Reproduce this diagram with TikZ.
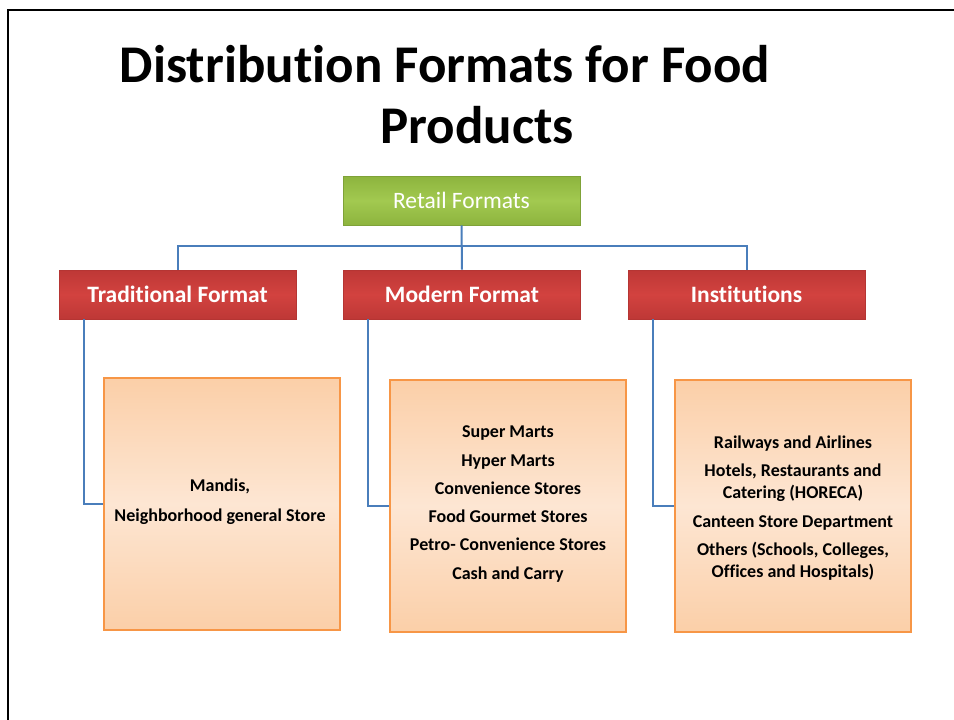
\documentclass[tikz,border=0pt]{standalone}
\usepackage{fontspec}
\setmainfont[Ligatures=NoCommon]{Carlito}
\definecolor{conn}{HTML}{4A7EBB}
\definecolor{grtop}{HTML}{8DB43E}
\definecolor{grmid}{HTML}{A2C950}
\definecolor{rdtop}{HTML}{BE3836}
\definecolor{rdmid}{HTML}{D2423F}
\definecolor{rdline}{HTML}{B53533}
\definecolor{ortop}{HTML}{FBCFA8}
\definecolor{ormid}{HTML}{FDE6D3}
\definecolor{orline}{HTML}{F79646}
\tikzset{
  greenbox/.style={rectangle, draw=grtop!90!black, line width=0.6pt, top color=grtop, bottom color=grtop, middle color=grmid,
    minimum width=237pt, minimum height=49pt, inner sep=0pt, text=white, font=\fontsize{23.5}{28}\selectfont},
  redbox/.style={rectangle, draw=rdline, line width=0.6pt, top color=rdtop, bottom color=rdtop, middle color=rdmid,
    minimum width=237pt, minimum height=49pt, inner sep=0pt, text=white, font=\bfseries\fontsize{23.5}{28}\selectfont},
  orbox/.style={rectangle, draw=orline, line width=1.2pt, top color=ortop, bottom color=ortop, middle color=ormid,
    minimum width=236pt, minimum height=252pt, inner sep=0pt},
  itemtext/.style={align=center, font=\bfseries\fontsize{18}{22}\selectfont, inner sep=0pt},
  titletext/.style={font=\bfseries\fontsize{53}{60}\selectfont, anchor=base, inner sep=0pt},
  conline/.style={draw=conn, line width=2pt},
  frameline/.style={draw=black, line width=2.2pt}
}
\begin{document}
\begin{tikzpicture}[x=1pt,y=-1pt]
\useasboundingbox (0,0) rectangle (954,720);
\fill[white] (0,0) rectangle (954,720);
% frame
\coordinate (fl) at (8,720);
\coordinate (fc) at (8,10);
\coordinate (fr) at (954,10);
\draw[frameline] (fl) -- (fc) -- (fr);
% title
\node[titletext] (title1) at (445,82) {Distribution Formats for Food};
\node[titletext] (title2) at (477,143) {Products};
% boxes
\node[greenbox] (retail) at (461.5,200.5) {Retail Formats};
\node[redbox] (trad) at (177.5,294.5) {Traditional Format};
\node[redbox] (mod) at (462,294.5) {Modern Format};
\node[redbox] (inst) at (746.5,294.5) {Institutions};
\node[orbox] (tbox) at (222,504) {};
\node[orbox] (mbox) at (508,506) {};
\node[orbox] (ibox) at (793,506) {};
\node[itemtext, font=\bfseries\fontsize{18}{30}\selectfont] (ttext) at (220,502) {Mandis,\\Neighborhood general Store};
\node[itemtext, font=\bfseries\fontsize{18}{28.3}\selectfont] (mtext) at (508,504)
  {Super Marts\\Hyper Marts\\Convenience Stores\\Food Gourmet Stores\\Petro- Convenience Stores\\Cash and Carry};
\node[itemtext] (itext) at (793,508)
  {Railways and Airlines\\[6.5pt]Hotels, Restaurants and\\Catering (HORECA)\\[6.5pt]Canteen Store Department\\[6.5pt]Others (Schools, Colleges,\\Offices and Hospitals)};
% connectors
\draw[conline] (retail.south) -- (mod.north);
\draw[conline] (trad.north) |- (462,246) -| (inst.north);
\draw[conline] ([xshift=-94pt]trad.south) |- (tbox.west);
\draw[conline] ([xshift=-94pt]mod.south) |- (mbox.west);
\draw[conline] ([xshift=-94pt]inst.south) |- (ibox.west);
\end{tikzpicture}
\end{document}
